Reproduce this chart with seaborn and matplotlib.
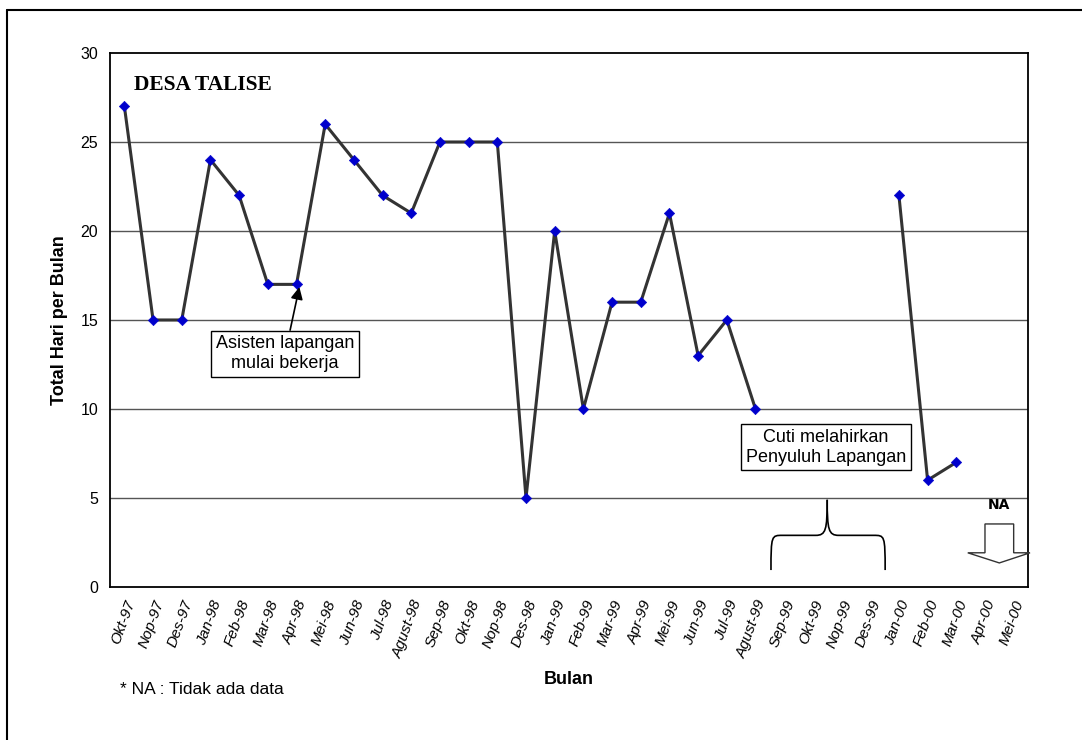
import numpy as np
import pandas as pd
import matplotlib
matplotlib.use("Agg")
import matplotlib.pyplot as plt
import seaborn as sns
from matplotlib.path import Path
from matplotlib.patches import PathPatch, Polygon
from matplotlib.lines import Line2D

# ---- Data ----
bulan = ["Okt-97", "Nop-97", "Des-97", "Jan-98", "Feb-98", "Mar-98", "Apr-98",
         "Mei-98", "Jun-98", "Jul-98", "Agust-98", "Sep-98", "Okt-98", "Nop-98",
         "Des-98", "Jan-99", "Feb-99", "Mar-99", "Apr-99", "Mei-99", "Jun-99",
         "Jul-99", "Agust-99", "Sep-99", "Okt-99", "Nop-99", "Des-99", "Jan-00",
         "Feb-00", "Mar-00", "Apr-00", "Mei-00"]
total_hari = [27, 15, 15, 24, 22, 17, 17, 26, 24, 22, 21, 25, 25, 25, 5, 20, 10,
              16, 16, 21, 13, 15, 10, np.nan, np.nan, np.nan, np.nan, 22, 6, 7,
              np.nan, np.nan]

df = pd.DataFrame({"bulan": bulan, "hari": total_hari})
df["pos"] = range(len(df))
# contiguous segments so the line breaks where data is missing
df["seg"] = df["hari"].isna().cumsum()
valid = df.dropna(subset=["hari"])

sns.set_style("white")
plt.rcParams["font.family"] = ["Liberation Sans", "DejaVu Sans"]
plt.rcParams["text.color"] = "black"
plt.rcParams["axes.labelcolor"] = "black"
plt.rcParams["xtick.color"] = "black"
plt.rcParams["ytick.color"] = "black"

fig = plt.figure(figsize=(10.82, 7.40), dpi=100)
ax = fig.add_axes([0.1017, 0.2068, 0.8484, 0.7216])

# gridlines
for yv in [5, 10, 15, 20, 25]:
    ax.axhline(yv, color="#555555", lw=1.0, zorder=0)

sns.lineplot(data=valid, x="pos", y="hari", units="seg", estimator=None, ax=ax,
             color="#333333", lw=2.2, zorder=2)
sns.scatterplot(data=valid, x="pos", y="hari", ax=ax, marker="D", s=28,
                color="#0000CC", edgecolor="#0000CC", zorder=3)

ax.set_xlim(-0.5, len(bulan) - 0.5)
ax.set_ylim(0, 30)
ax.set_yticks([0, 5, 10, 15, 20, 25, 30])
ax.set_xticks(df["pos"])
ax.set_xticklabels(bulan, rotation=70, ha="right", rotation_mode="anchor",
                   fontsize=11, fontstyle="italic")
ax.set_xticks(np.arange(-0.5, len(bulan), 1), minor=True)
ax.tick_params(axis="x", which="major", length=0, pad=8)
ax.tick_params(axis="x", which="minor", length=5, width=1, color="black", direction="out")
ax.tick_params(axis="y", length=5, width=1, color="black", direction="out", labelsize=11.5)
for s in ax.spines.values():
    s.set_color("black")
    s.set_linewidth(1.3)

ax.set_xlabel("Bulan", fontsize=13, fontweight="bold", labelpad=8)
ax.set_ylabel("Total Hari per Bulan", fontsize=13, fontweight="bold", labelpad=9)

# title in plot
ax.text(0.35, 28.2, "DESA TALISE", family="Liberation Serif", fontweight="bold",
        fontsize=15.5, va="center", ha="left")

# annotations
ax.annotate("Asisten lapangan\nmulai bekerja", xy=(6.1, 16.85), xytext=(5.6, 13.1),
            ha="center", va="center", fontsize=13, linespacing=1.25,
            bbox=dict(boxstyle="square,pad=0.25", fc="white", ec="black", lw=1),
            arrowprops=dict(arrowstyle="-|>", color="black", lw=1.2,
                            mutation_scale=18, shrinkA=0, shrinkB=0))
ax.text(24.46, 7.85, "Cuti melahirkan\nPenyuluh Lapangan", ha="center", va="center",
        fontsize=13, linespacing=1.25,
        bbox=dict(boxstyle="square,pad=0.25", fc="white", ec="black", lw=1))

# curly brace
x0, xm, x1 = 22.54, 24.5, 26.52
yb, yh, yt = 0.95, 2.9, 4.9
brace_l = Path([(x0, yb), (x0, yh), (x0 + 0.02, yh), (x0 + 0.4, yh),
                (xm - 0.4, yh), (xm - 0.05, yh), (xm, yh + 0.3), (xm, yt)],
               [Path.MOVETO, Path.CURVE4, Path.CURVE4, Path.CURVE4,
                Path.LINETO, Path.CURVE4, Path.CURVE4, Path.CURVE4])
brace_r = Path([(x1, yb), (x1, yh), (x1 - 0.02, yh), (x1 - 0.4, yh),
                (xm + 0.4, yh), (xm + 0.05, yh), (xm, yh + 0.3), (xm, yt)],
               [Path.MOVETO, Path.CURVE4, Path.CURVE4, Path.CURVE4,
                Path.LINETO, Path.CURVE4, Path.CURVE4, Path.CURVE4])
for p in (brace_l, brace_r):
    ax.add_patch(PathPatch(p, fc="none", ec="black", lw=1.2, clip_on=False))

# NA hollow arrow
arrow = Polygon([(30.0, 3.54), (31.0, 3.54), (31.0, 1.92), (31.57, 1.92),
                 (30.5, 1.35), (29.4, 1.92), (30.0, 1.92)],
                closed=True, fc="white", ec="#333333", lw=1.0, clip_on=False, zorder=4)
ax.add_patch(arrow)
ax.text(30.5, 4.6, "NA", ha="center", va="center", fontsize=10, fontweight="bold",
        family="DejaVu Sans")

fig.text(120 / 1082, 1 - 690 / 740, "* NA : Tidak ada data", fontsize=12.5,
         ha="left", va="center")

# outer frame (left and top)
fig.add_artist(Line2D([7 / 1082, 7 / 1082], [0, 1 - 10 / 740], color="black", lw=1.5))
fig.add_artist(Line2D([7 / 1082, 1], [1 - 10 / 740, 1 - 10 / 740], color="black", lw=1.5))

fig.savefig("out.png", dpi=100)
